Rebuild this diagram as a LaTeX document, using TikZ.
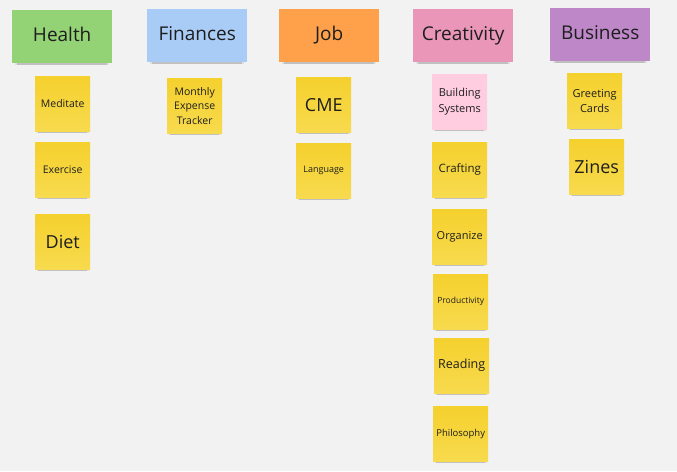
\documentclass[tikz,border=0pt]{standalone}
\usepackage{fontspec}
\setmainfont{Open Sans}
\usetikzlibrary{shadows}
\definecolor{bg}{HTML}{F2F2F2}
\definecolor{cgreen}{HTML}{93D275}
\definecolor{cblue}{HTML}{A8CCF5}
\definecolor{corange}{HTML}{FFA04B}
\definecolor{cpink}{HTML}{EA96B9}
\definecolor{cpurple}{HTML}{BE88C8}
\definecolor{cyellow}{HTML}{F5D12E}
\definecolor{cyellowlt}{HTML}{F7DA4E}
\definecolor{clightpink}{HTML}{FFCCE0}
\definecolor{ink}{HTML}{1E1E1E}
\tikzset{
  x=1pt,y=1pt,
  shadowed/.style={drop shadow={shadow xshift=0pt,shadow yshift=-5pt,shadow scale=0.9,opacity=0.22,fill=black!70},
                   drop shadow={shadow xshift=0pt,shadow yshift=-4pt,shadow scale=0.94,opacity=0.12,fill=black!60}},
  header/.style={shadowed,anchor=north west,minimum width=100pt,minimum height=53pt,inner sep=0pt,
    text=ink,font=\fontsize{19}{22}\selectfont,text height=14pt,text depth=4.5pt},
  note/.style={shadowed,anchor=north west,minimum width=55pt,minimum height=55pt,inner sep=1pt,
    text=ink,align=center,top color=cyellow,bottom color=cyellowlt,draw=none},
  fs/.style={font=\fontsize{#1}{20}\selectfont},
}
\begin{document}
\begin{tikzpicture}
\useasboundingbox (0,0) rectangle (677,-471);
\fill[bg] (0,0) rectangle (677,-471);
% headers
\node[header,fill=cgreen] (health) at (12,-10) {Health};
\node[header,fill=cblue] (finances) at (147,-9) {Finances};
\node[header,fill=corange] (job) at (279,-9) {Job};
\node[header,fill=cpink] (creativity) at (413,-9) {Creativity};
\node[header,fill=cpurple] (business) at (550,-8) {Business};
% Health
\node[note,fs=10.5] (meditate) at (35,-76) {Meditate};
\node[note,fs=10.5] (exercise) at (35,-142) {Exercise};
\node[note,fs=18] (diet) at (35,-214) {Diet};
% Finances
\node[note,font=\fontsize{10.5}{14.5}\selectfont] (tracker) at (167,-78) {Monthly\\Expense\\Tracker};
% Job
\node[note,fs=18] (cme) at (296,-77) {CME};
\node[note,fs=9] (language) at (296,-143) {Language};
% Creativity
\node[note,top color=clightpink,bottom color=clightpink,font=\fontsize{11}{15.5}\selectfont] (building) at (432,-74) {Building\\Systems};
\node[note,fs=11.5] (crafting) at (432,-142) {Crafting};
\node[note,fs=11] (organize) at (432,-209) {Organize};
\node[note,fs=8.5] (productivity) at (433,-274) {Productivity};
\node[note,fs=12.5] (reading) at (434,-338) {Reading};
\node[note,fs=9.5] (philosophy) at (433,-406) {Philosophy};
% Business
\node[note,font=\fontsize{11}{15}\selectfont] (greeting) at (567,-73) {Greeting\\Cards};
\node[note,fs=18] (zines) at (569,-139) {Zines};
\end{tikzpicture}
\end{document}
